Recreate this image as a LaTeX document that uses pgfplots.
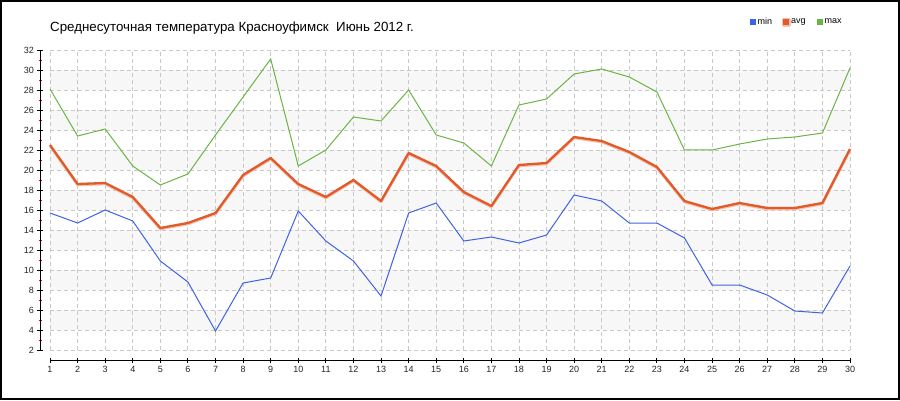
\documentclass[border=0pt]{standalone}
\usepackage{fontspec}
\setmainfont{Liberation Sans}
\usepackage{pgfplots}
\pgfplotsset{compat=1.18}
\definecolor{minblue}{HTML}{3F63E3}
\definecolor{avgorange}{HTML}{E2592A}
\definecolor{avgshadow}{HTML}{F3C2AE}
\definecolor{maxgreen}{HTML}{6BB545}
\definecolor{band}{HTML}{F7F7F7}
\definecolor{gridc}{HTML}{C8C8C8}
\begin{document}
\begin{tikzpicture}[x=1pt,y=1pt]
\useasboundingbox (0,0) rectangle (900,400);
\fill[white] (0,0) rectangle (900,400);
\begin{axis}[
  at={(40pt,40pt)}, anchor=south west,
  scale only axis, width=810pt, height=310pt,
  xmin=0.6375, xmax=30, ymin=1, ymax=32,
  axis x line*=bottom, axis y line*=left,
  axis line style={draw=none,-},
  xtick={1,...,30}, ytick={2,4,...,32}, minor ytick={3,5,...,31},
  tick align=center, major tick length=5pt, minor tick length=3pt,
  major tick style={black, line width=0.9pt},
  minor tick style={red, line width=0.9pt},
  tick label style={font=\fontsize{9}{10}\selectfont, text=black!85},
  /pgf/number format/assume math mode=true,
  clip=false,
  legend columns=3,
  legend style={draw=none, fill=none, at={(0.9925,1.09)}, anchor=east,
    font=\fontsize{9}{10}\selectfont, inner sep=0pt,
    /tikz/every even column/.append style={column sep=9pt}},
  legend image code/.code={\fill[#1, draw=none] (0pt,-2.5pt) rectangle (6pt,3.5pt);},
]
% bands
\fill[band] (axis cs:1,4) rectangle (axis cs:30,6);
\fill[band] (axis cs:1,8) rectangle (axis cs:30,10);
\fill[band] (axis cs:1,12) rectangle (axis cs:30,14);
\fill[band] (axis cs:1,16) rectangle (axis cs:30,18);
\fill[band] (axis cs:1,20) rectangle (axis cs:30,22);
\fill[band] (axis cs:1,24) rectangle (axis cs:30,26);
\fill[band] (axis cs:1,28) rectangle (axis cs:30,30);
% grid
\pgfplotsinvokeforeach{2,4,...,32}{\draw[gridc, line width=0.9pt, dash pattern=on 4pt off 3pt] (axis cs:1,#1) -- (axis cs:30,#1);}
\pgfplotsinvokeforeach{1,...,30}{\draw[gridc, line width=0.9pt, dash pattern=on 4pt off 3pt] (axis cs:#1,2) -- (axis cs:#1,32);}
% axis lines
\draw[black, line width=1pt] (axis cs:0.6375,2) -- (axis cs:0.6375,32);
\draw[black, line width=1pt] (axis cs:1,1) -- (axis cs:30,1);

\addplot[color=minblue, line width=1pt] coordinates {
(1,15.7)(2,14.7)(3,16.0)(4,14.9)(5,10.9)(6,8.8)(7,3.9)(8,8.7)(9,9.2)(10,15.9)
(11,12.9)(12,10.9)(13,7.4)(14,15.7)(15,16.7)(16,12.9)(17,13.3)(18,12.7)(19,13.5)(20,17.5)
(21,16.9)(22,14.7)(23,14.7)(24,13.2)(25,8.5)(26,8.5)(27,7.5)(28,5.9)(29,5.7)(30,10.4)};
\addlegendentry{min}
\addplot[color=avgorange, line width=2.3pt, line join=round,
  preaction={draw=avgshadow, line width=2.6pt, transform canvas={yshift=-1pt}}] coordinates {
(1,22.5)(2,18.6)(3,18.7)(4,17.3)(5,14.2)(6,14.7)(7,15.7)(8,19.5)(9,21.2)(10,18.6)
(11,17.3)(12,19.0)(13,16.9)(14,21.7)(15,20.4)(16,17.8)(17,16.4)(18,20.5)(19,20.7)(20,23.3)
(21,22.9)(22,21.8)(23,20.3)(24,16.9)(25,16.1)(26,16.7)(27,16.2)(28,16.2)(29,16.7)(30,22.1)};
\addlegendentry{avg}
\addplot[color=maxgreen, line width=1pt] coordinates {
(1,28.1)(2,23.4)(3,24.1)(4,20.4)(5,18.5)(6,19.6)(7,23.5)(8,27.3)(9,31.1)(10,20.4)
(11,22.0)(12,25.3)(13,24.9)(14,28.0)(15,23.5)(16,22.7)(17,20.4)(18,26.5)(19,27.1)(20,29.6)
(21,30.1)(22,29.3)(23,27.8)(24,22.0)(25,22.0)(26,22.6)(27,23.1)(28,23.3)(29,23.7)(30,30.2)};
\addlegendentry{max}
\end{axis}
\node[anchor=base west, font=\fontsize{13.3}{16}\selectfont, inner sep=0pt] at (50,368) {Среднесуточная температура Красноуфимск\ \ Июнь 2012 г.};
\draw[black, line width=2pt] (1,1) rectangle (899,399);
\end{tikzpicture}
\end{document}
